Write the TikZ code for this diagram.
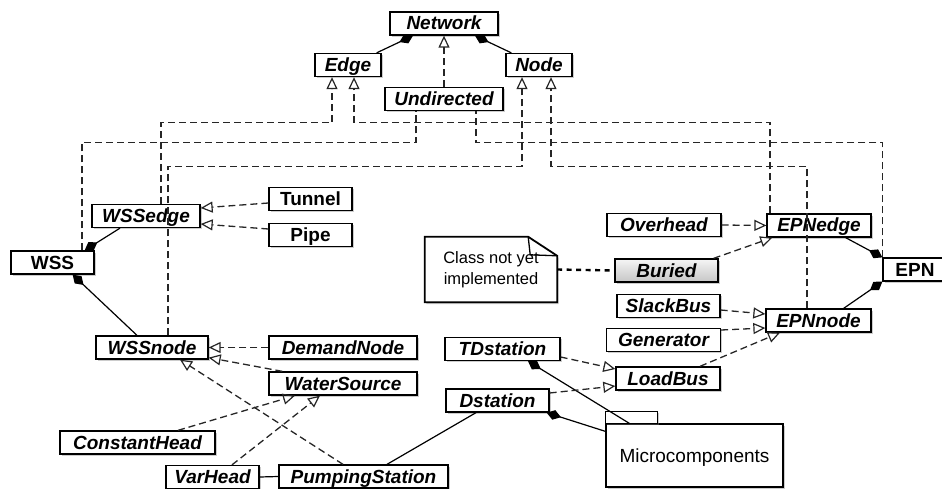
\documentclass[tikz,border=0pt]{standalone}
\usepackage{fontspec}
\setmainfont{Liberation Sans}
\usetikzlibrary{arrows.meta, shadows}

\begin{document}
\begin{tikzpicture}[
    x=1pt, y=-1pt,
    cls/.style={draw, fill=white, rectangle, line width=1.3pt, inner sep=2pt, minimum height=23pt, text height=14pt, text depth=1pt, font=\fontsize{19}{22}\selectfont\bfseries\itshape, drop shadow={shadow xshift=1.5pt, shadow yshift=-1.8pt, opacity=0.4}},
    concrete/.style={cls, font=\fontsize{19}{22}\selectfont\bfseries},
    gen/.style={draw=black!85, line width=1.3pt, dash pattern=on 7pt off 4pt, -{Triangle[open, length=12pt, width=11pt, line width=1.2pt]}},
    link/.style={draw=black!85, line width=1.3pt, dash pattern=on 7pt off 4pt},
    comp/.style={line width=1.2pt, {Diamond[length=15pt, width=10pt]}-},
    assoc/.style={line width=1.2pt},
    notelink/.style={line width=2.4pt, dash pattern=on 5pt off 4.5pt},
    pkg/.style={draw, fill=white, line width=1.3pt, drop shadow={shadow xshift=1.5pt, shadow yshift=-1.8pt, opacity=0.4}}
]
\useasboundingbox (0,0) rectangle (942,489);

% --- 1. ABSTRACT NETWORK (Top) ---
\node[cls, minimum width=108pt] (network) at (444,23.5) {Network};
\node[cls, minimum width=66pt] (edge) at (348,65) {Edge};
\node[cls, minimum width=66pt] (netnode) at (539,65) {Node};
\node[cls, minimum width=118pt] (undirected) at (444,99) {Undirected};

% --- 2. WATER SUPPLY SYSTEM (Left) ---
\node[concrete, minimum width=83pt] (wss) at (52.5,262.5) {WSS};
\node[cls, minimum width=108pt] (wssedge) at (146,216) {WSSedge};
\node[concrete, minimum width=83pt] (tunnel) at (310.5,199) {Tunnel};
\node[concrete, minimum width=83pt] (pipe) at (310.5,235) {Pipe};
\node[cls, minimum width=112pt] (wssnode) at (152,347.5) {WSSnode};
\node[cls, minimum width=148pt] (demandnode) at (343,347.5) {DemandNode};
\node[cls, minimum width=148pt] (watersource) at (343,383.5) {WaterSource};
\node[cls, minimum width=155pt] (constanthead) at (137.5,442.5) {ConstantHead};
\node[cls, minimum width=93pt] (varhead) at (212.5,477) {VarHead};
\node[cls, minimum width=169pt] (pumping) at (363.5,476.5) {PumpingStation};

% --- 3. ELECTRIC POWER NETWORK (Right) ---
\node[concrete, minimum width=64pt] (epn) at (915,269.5) {EPN};
\node[cls, minimum width=104pt] (epnedge) at (819,225.5) {EPNedge};
\node[cls, minimum width=114pt] (overhead) at (664,225) {Overhead};
\node[cls, minimum width=103pt, top color=gray!8, bottom color=gray!45] (buried) at (666.5,270.5) {Buried};
\node[cls, minimum width=105pt] (epnnode) at (818.5,320.5) {EPNnode};
\node[cls, minimum width=103pt] (slackbus) at (668.5,306) {SlackBus};
\node[cls, minimum width=114pt] (generator) at (663.5,340) {Generator};
\node[cls, minimum width=104pt] (loadbus) at (668,378.5) {LoadBus};

% --- 4. STATIONS AND MICROCOMPONENTS ---
\node[cls, minimum width=115pt] (tdstation) at (502.5,349) {TDstation};
\node[cls, minimum width=103pt] (dstation) at (497.5,400.5) {Dstation};
\node[pkg, minimum width=177pt, minimum height=63pt, text depth=-6pt, font=\fontsize{19}{22}\selectfont] (micro) at (694.5,455.5) {Microcomponents};
\draw[pkg] (micro.north west) rectangle ++(52,-12);

% Note (drawn as a dog-eared sheet)
\node[minimum width=132pt, minimum height=65pt, inner sep=0pt] (note) at (491,269.5) {};
\draw[line width=1.8pt, fill=white, drop shadow={shadow xshift=1.5pt, shadow yshift=-2pt, opacity=0.45}] (note.north west) -- ([xshift=-29pt]note.north east) -- ([yshift=-19pt]note.north east) -- (note.south east) -- (note.south west) -- cycle;
\draw[line width=1.3pt] ([xshift=-29pt]note.north east) -- ([xshift=-27pt,yshift=-18pt]note.north east) -- ([yshift=-19pt]note.north east);
\node[align=center, font=\fontsize{16.5}{20.5}\selectfont] (notetext) at (note.center) {Class not yet\\implemented};

% --- 5. CONNECTORS ---
% compositions
\draw[comp] ([xshift=-31pt]network.south) -- ([xshift=-5pt]edge.north east);
\draw[comp] ([xshift=31pt]network.south) -- ([xshift=6pt]netnode.north west);
\draw[comp] ([xshift=-10pt]wss.north east) -- ([xshift=-26pt]wssedge.south);
\draw[comp] ([xshift=-22pt]wss.south east) -- ([xshift=-15pt]wssnode.north);
\draw[comp] (epn.north west) -- ([xshift=-26pt]epnedge.south east);
\draw[comp] (epn.south west) -- ([xshift=-28pt]epnnode.north east);
\draw[comp] ([xshift=25.5pt]tdstation.south) -- ([xshift=24pt]micro.north west);
\draw[comp] ([xshift=-3pt]dstation.south east) -- ([yshift=-8pt]micro.north west);

% plain associations
\draw[assoc] (varhead.east) -- (pumping.west);
\draw[assoc] ([xshift=23.5pt]pumping.north) -- ([xshift=-21.5pt]dstation.south);

% generalizations to the top classes
\draw[gen] (undirected.north) -- (network.south);
\draw[gen] ([xshift=15pt]wssedge.north) -- ++(0,-81) -| ([xshift=-16pt]edge.south);
\draw[gen] ([xshift=-49pt]epnedge.north) -- ++(0,-91) -| ([xshift=6pt]edge.south);
\draw[gen] ([xshift=16pt]wssnode.north) -- ++(0,-169) -| ([xshift=-17pt]netnode.south);
\draw[gen] ([xshift=-11.5pt]epnnode.north) -- ++(0,-142) -| ([xshift=12pt]netnode.south);
\draw[link] ([xshift=29.5pt]wss.north) -- ++(0,-108) -| ([xshift=-28pt]undirected.south);
\draw[link] (epn.north west) -- ++(0,-115) -| ([xshift=32pt]undirected.south);

% water side
\draw[gen] ([yshift=-4pt]tunnel.west) -- ([yshift=8pt]wssedge.east);
\draw[gen] ([yshift=6pt]pipe.west) -- ([yshift=-8pt]wssedge.east);
\draw[gen] (demandnode.west) -- (wssnode.east);
\draw[gen] ([xshift=14pt]watersource.north west) -- ([yshift=2pt]wssnode.south east);
\draw[gen] ([xshift=-20.5pt]pumping.north) -- ([xshift=28pt]wssnode.south);
\draw[gen] ([xshift=40.5pt]constanthead.north) -- ([xshift=-48pt]watersource.south);
\draw[gen] ([xshift=19.5pt]varhead.north) -- ([xshift=-23pt]watersource.south);

% power side
\draw[gen] (overhead.east) -- (epnedge.west);
\draw[gen] ([xshift=-5pt]buried.north east) -- ([xshift=6pt]epnedge.south west);
\draw[notelink] (note.east) -- (buried.west);
\draw[gen] ([yshift=-4pt]slackbus.east) -- ([yshift=6.5pt]epnnode.west);
\draw[gen] ([yshift=10pt]generator.east) -- ([yshift=-7.5pt]epnnode.west);
\draw[gen] ([xshift=32pt]loadbus.north) -- ([xshift=-38.5pt]epnnode.south);
\draw[gen] ([yshift=-8pt]tdstation.east) -- ([yshift=9.5pt]loadbus.west);
\draw[gen] ([yshift=7.5pt]dstation.east) -- ([yshift=-7.5pt]loadbus.west);

\end{tikzpicture}
\end{document}
